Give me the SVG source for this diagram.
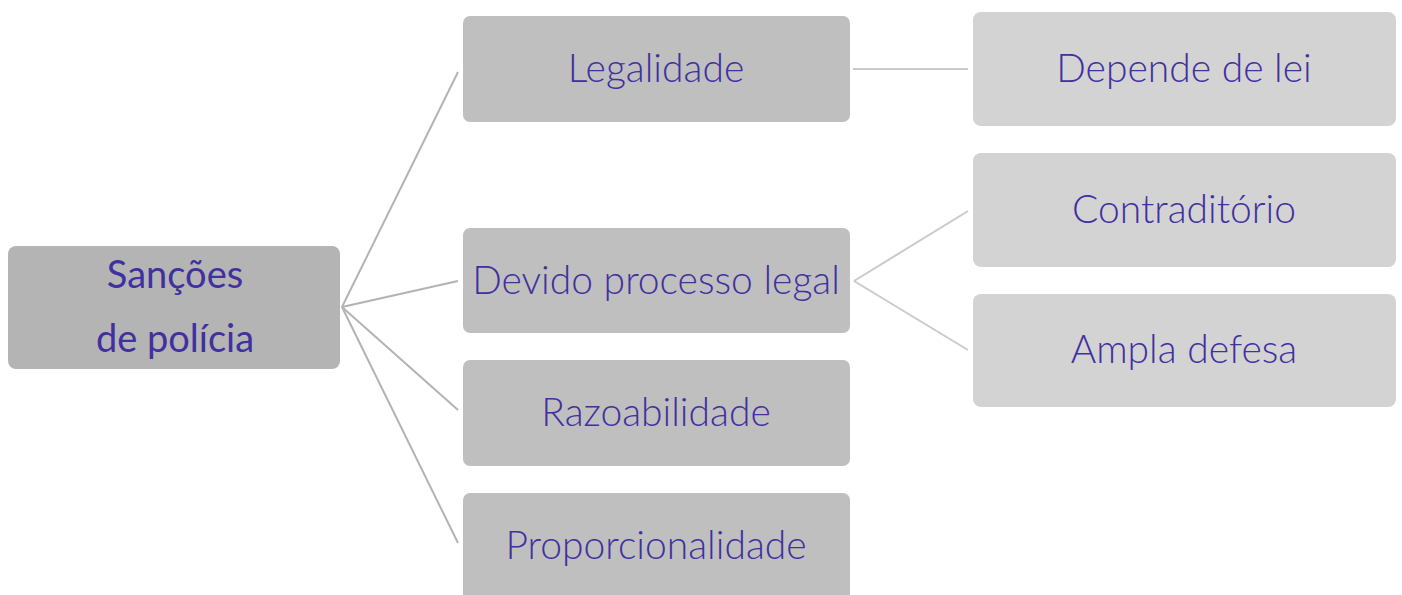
<svg xmlns="http://www.w3.org/2000/svg" width="1402" height="595" viewBox="0 0 1402 595">
<style>
.t{font-family:Lato,"Noto Sans",sans-serif;font-size:39px;font-weight:300;fill:#4030a0;text-anchor:middle}
.r{font-family:Lato,"Noto Sans",sans-serif;font-size:38px;fill:#4030a0;text-anchor:middle}
.l1{fill:#bfbfbf}
.l2{fill:#d3d3d3}
.c1{stroke:#b3b3b3;stroke-width:2;fill:none}
.c2{stroke:#cacaca;stroke-width:2;fill:none}
</style>
<rect width="1402" height="595" fill="#fff"/>
<g id="connectors">
<line class="c1" x1="342" y1="307" x2="458" y2="72"/>
<line class="c1" x1="342" y1="307" x2="458" y2="281"/>
<line class="c1" x1="342" y1="307" x2="458" y2="410"/>
<line class="c1" x1="342" y1="307" x2="458" y2="543"/>
<line class="c2" x1="853" y1="69" x2="968" y2="69"/>
<line class="c2" x1="854" y1="281" x2="968" y2="211"/>
<line class="c2" x1="854" y1="281" x2="968" y2="350"/>
</g>
<g id="root">
<rect x="8" y="246" width="332" height="123" rx="8" fill="#b4b4b4"/>
<text class="r" x="175" y="288">Sanções</text>
<text class="r" x="175" y="352">de polícia</text>
</g>
<g id="legalidade">
<rect class="l1" x="463" y="16" width="387" height="106" rx="7"/>
<text class="t" x="656" y="82">Legalidade</text>
</g>
<g id="devido">
<rect class="l1" x="463" y="228" width="387" height="105" rx="7"/>
<text class="t" x="656" y="294">Devido processo legal</text>
</g>
<g id="razoabilidade">
<rect class="l1" x="463" y="360" width="387" height="106" rx="7"/>
<text class="t" x="656" y="426">Razoabilidade</text>
</g>
<g id="proporcionalidade">
<rect class="l1" x="463" y="493" width="387" height="110" rx="7"/>
<text class="t" x="656" y="559">Proporcionalidade</text>
</g>
<g id="depende">
<rect class="l2" x="973" y="12" width="423" height="114" rx="8"/>
<text class="t" x="1184" y="82">Depende de lei</text>
</g>
<g id="contraditorio">
<rect class="l2" x="973" y="153" width="423" height="114" rx="8"/>
<text class="t" x="1184" y="223">Contraditório</text>
</g>
<g id="ampla">
<rect class="l2" x="973" y="294" width="423" height="113" rx="8"/>
<text class="t" x="1184" y="363">Ampla defesa</text>
</g>
</svg>
